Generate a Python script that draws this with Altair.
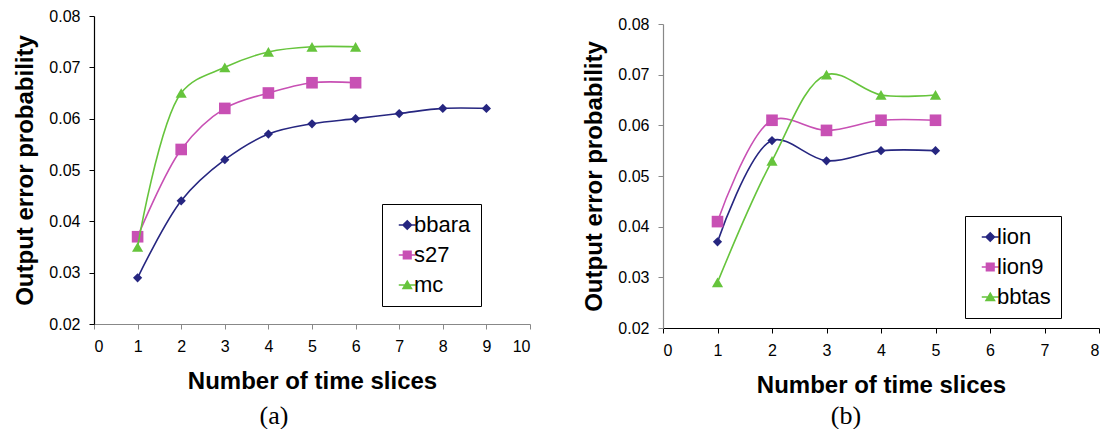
import altair as alt
import pandas as pd

# ---------------- data ----------------
# panel (a)
a_series = ["bbara", "s27", "mc"]
a_x_bbara = [1, 2, 3, 4, 5, 6, 7, 8, 9]
a_bbara = [0.029, 0.044, 0.052, 0.057, 0.059, 0.060, 0.061, 0.062, 0.062]
a_x_other = [1, 2, 3, 4, 5, 6]
a_s27 = [0.037, 0.054, 0.062, 0.065, 0.067, 0.067]
a_mc = [0.035, 0.065, 0.070, 0.073, 0.074, 0.074]

# panel (b)
b_series = ["lion", "lion9", "bbtas"]
b_x = [1, 2, 3, 4, 5]
b_lion = [0.037, 0.057, 0.053, 0.055, 0.055]
b_lion9 = [0.041, 0.061, 0.059, 0.061, 0.061]
b_bbtas = [0.029, 0.053, 0.070, 0.066, 0.066]

y_ticks = [0.02, 0.03, 0.04, 0.05, 0.06, 0.07, 0.08]
a_x_ticks = list(range(0, 11))
b_x_ticks = list(range(0, 9))

# ---------------- styles ----------------
colors = ["#262680", "#c850b4", "#66c43c"]
marker_shapes = ["diamond", "square", "triangle-up"]
marker_sizes = [85, 135, 125]
legend_paths = [
    "M-1.2,0H3.6M1.2,-1.2L2.4,0L1.2,1.2L0,0Z",
    "M-1.2,0H3.6M0.12,-1.08H2.28V1.08H0.12Z",
    "M-1.2,0H3.6M1.2,-1.08L2.4,0.96H0Z",
]
FONT = "Liberation Sans"


def make_df(series, xs, ys):
    rows = []
    for s, xv, yv in zip(series, xs, ys):
        for a, b in zip(xv, yv):
            rows.append({"x": a, "y": b, "series": s})
    return pd.DataFrame(rows)


df_a = make_df(a_series, [a_x_bbara, a_x_other, a_x_other], [a_bbara, a_s27, a_mc])
df_b = make_df(b_series, [b_x, b_x, b_x], [b_lion, b_lion9, b_bbtas])


def panel(df, series, xticks, width, height, top_gap, xcol, ycol, caption, legend_xy, cap_x, cap_dy):
    xenc = alt.X(
        "x:Q",
        scale=alt.Scale(domain=[xticks[0], xticks[-1]], nice=False, zero=False),
        axis=alt.Axis(values=xticks, format="d", domainColor=xcol, tickColor=xcol,
                      titlePadding=15, labelPadding=9),
        title="Number of time slices",
    )
    yenc = alt.Y(
        "y:Q",
        scale=alt.Scale(domain=[0.02, 0.08], nice=False, zero=False, range=[height, top_gap]),
        axis=alt.Axis(values=y_ticks, format=".2f", domainColor=ycol, tickColor=ycol,
                      titlePadding=11, labelPadding=9),
        title="Output error probability",
    )
    layers = []
    for s, c, shp, sz in zip(series, colors, marker_shapes, marker_sizes):
        base = alt.Chart(df).transform_filter(alt.datum.series == s)
        layers.append(
            base.mark_line(interpolate="catmull-rom", color=c, strokeWidth=1.6).encode(x=xenc, y=yenc)
        )
        layers.append(
            base.mark_point(shape=shp, size=sz, filled=True, color=c, opacity=1).encode(x=xenc, y=yenc)
        )
    leg = alt.Legend(
        title=None, orient="none", legendX=legend_xy[0], legendY=legend_xy[1],
        strokeColor="black", fillColor="white", padding=10, rowPadding=8,
        labelFont=FONT, labelFontSize=22, labelColor="black", labelOffset=0,
        symbolSize=50, symbolStrokeWidth=1.5,
    )
    legend_layer = alt.Chart(df).mark_point(filled=True, opacity=0).encode(
        x=xenc, y=yenc,
        fill=alt.Fill("series:N", scale=alt.Scale(domain=series, range=colors), legend=leg),
        stroke=alt.Stroke("series:N", scale=alt.Scale(domain=series, range=colors), legend=leg),
        shape=alt.Shape("series:N", scale=alt.Scale(domain=series, range=legend_paths), legend=leg),
    )
    layers.append(legend_layer)
    cap = alt.Chart(pd.DataFrame({"c": [caption]})).mark_text(
        font="Liberation Serif", fontSize=26, color="black", baseline="middle", align="center"
    ).encode(text="c:N", x=alt.value(cap_x), y=alt.value(height + cap_dy))
    layers.append(cap)
    return alt.layer(*layers).properties(width=width, height=height)


left = panel(df_a, a_series, a_x_ticks, 436, 308, 0, "#888888", "#000000", "(a)", (288, 188), 180, 92)
right = panel(df_b, b_series, b_x_ticks, 436, 312, 8, "#000000", "#888888", "(b)", (302, 200), 183, 88)

chart = (
    alt.hconcat(left, right, spacing=51)
    .resolve_scale(fill="independent", stroke="independent", shape="independent")
    .resolve_legend(fill="independent", stroke="independent", shape="independent")
    .properties(padding={"left": 5, "top": 0, "right": 0, "bottom": 0})
    .configure_view(stroke=None)
    .configure_axis(
        grid=False, labelFont=FONT, labelFontSize=16, labelColor="black",
        titleFont=FONT, titleFontSize=24, titleFontWeight="bold", titleColor="black",
        tickSize=5, domainWidth=1.2,
    )
    .configure_legend(symbolOpacity=1)
)

chart.save("out.html", embed_options={"renderer": "svg", "actions": False})
